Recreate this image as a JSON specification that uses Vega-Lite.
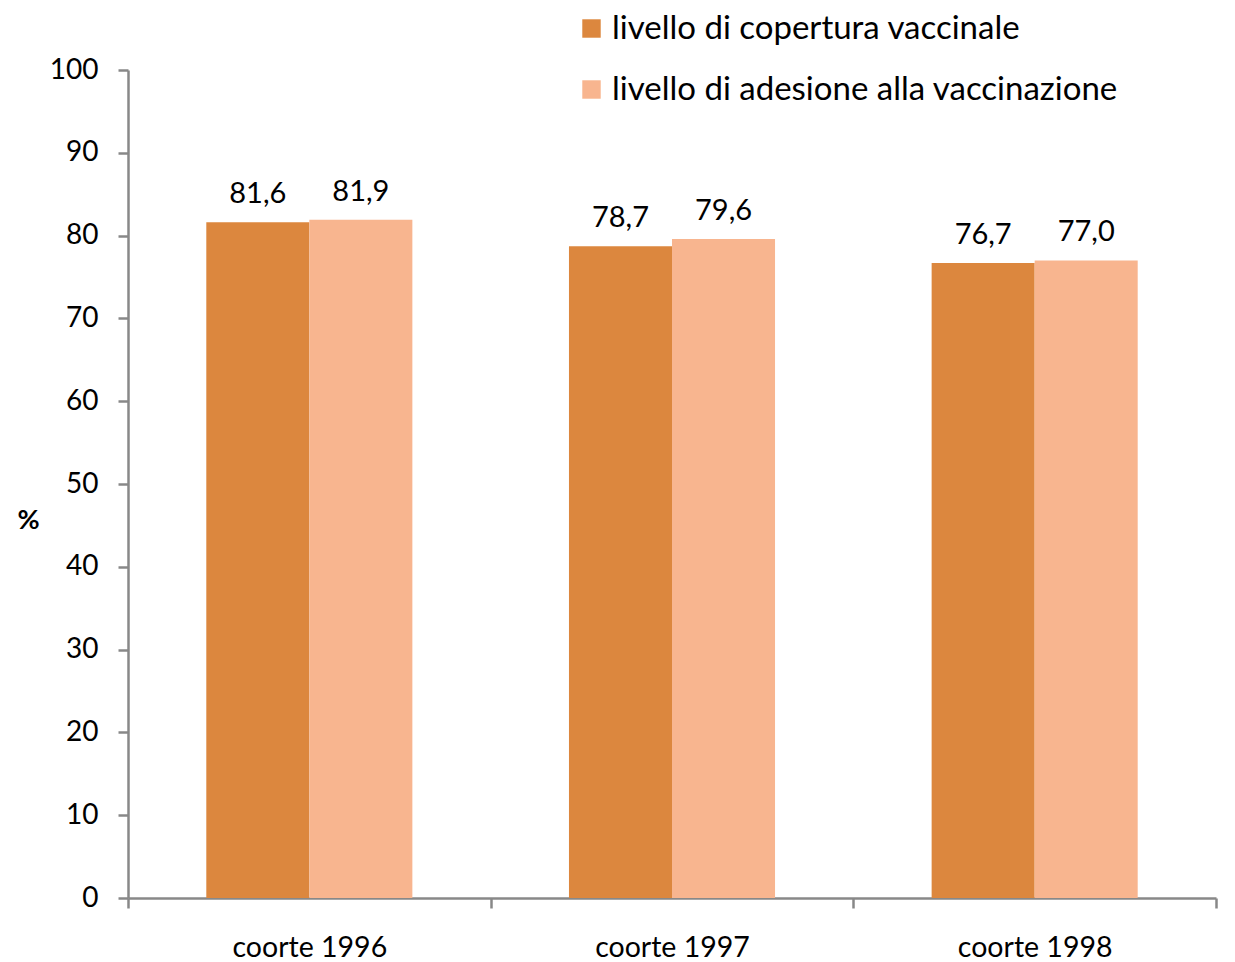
{
  "$schema": "https://vega.github.io/schema/vega-lite/v6.json",
  "width": 1088,
  "height": 828,
  "autosize": {"type": "none"},
  "padding": {"left": 128, "top": 70, "right": 19, "bottom": 64},
  "background": "white",
  "config": {
    "font": "Lato",
    "view": {"stroke": null},
    "locale": {"number": {"decimal": ",", "thousands": ".", "grouping": [3], "currency": ["€", ""]}}
  },
  "data": {
    "values": [
      {"coorte": "coorte 1996", "serie": "livello di copertura vaccinale", "valore": 81.6},
      {"coorte": "coorte 1996", "serie": "livello di adesione alla vaccinazione", "valore": 81.9},
      {"coorte": "coorte 1997", "serie": "livello di copertura vaccinale", "valore": 78.7},
      {"coorte": "coorte 1997", "serie": "livello di adesione alla vaccinazione", "valore": 79.6},
      {"coorte": "coorte 1998", "serie": "livello di copertura vaccinale", "valore": 76.7},
      {"coorte": "coorte 1998", "serie": "livello di adesione alla vaccinazione", "valore": 77.0}
    ]
  },
  "encoding": {
    "x": {
      "field": "coorte", "type": "nominal",
      "scale": {"paddingInner": 0, "paddingOuter": 0},
      "axis": {
        "title": null, "labelAngle": 0, "labelFontSize": 28.5, "labelColor": "#000",
        "tickBand": "extent", "tickSize": 10, "tickWidth": 2.5, "tickColor": "#888",
        "domainColor": "#888", "domainWidth": 2.5, "labelPadding": 25, "grid": false
      }
    },
    "xOffset": {
      "field": "serie", "type": "nominal",
      "sort": ["livello di copertura vaccinale", "livello di adesione alla vaccinazione"],
      "scale": {"paddingInner": 0, "paddingOuter": 0.76}
    },
    "y": {
      "field": "valore", "type": "quantitative",
      "scale": {"domain": [0, 100], "nice": false},
      "axis": {
        "title": "%", "titleAngle": 0, "titleFontSize": 27, "titleFontWeight": "bold",
        "titleX": -100, "titleY": 450, "titleAlign": "center", "titleBaseline": "middle",
        "values": [0, 10, 20, 30, 40, 50, 60, 70, 80, 90, 100],
        "labelFontSize": 28, "labelColor": "#000", "labelPadding": 20,
        "tickSize": 10, "tickWidth": 2.5, "tickColor": "#888",
        "domainColor": "#888", "domainWidth": 2.5, "grid": false
      }
    }
  },
  "layer": [
    {
      "mark": {"type": "bar"},
      "encoding": {
        "color": {
          "field": "serie", "type": "nominal",
          "sort": ["livello di copertura vaccinale", "livello di adesione alla vaccinazione"],
          "scale": {"range": ["#DC873E", "#F8B58F"]},
          "legend": {
            "title": null, "orient": "none", "legendX": 447, "legendY": -58,
            "symbolType": "square", "symbolSize": 340, "symbolStrokeWidth": 0,
            "labelFontSize": 33, "labelColor": "#000", "labelOffset": 4,
            "rowPadding": 27, "labelLimit": 700
          }
        }
      }
    },
    {
      "mark": {"type": "text", "dy": -28, "fontSize": 29, "color": "#000"},
      "encoding": {
        "text": {"field": "valore", "type": "quantitative", "format": ".1f"}
      }
    }
  ]
}
